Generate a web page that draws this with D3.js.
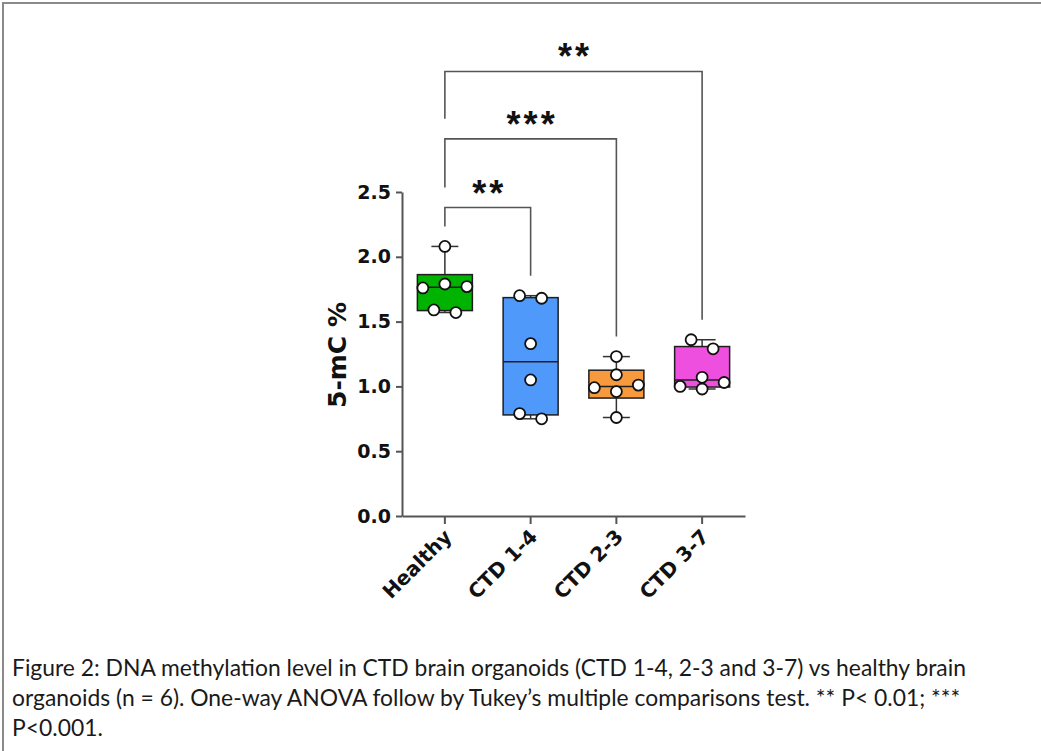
<!DOCTYPE html>
<html lang="en">
<head>
    <meta charset="UTF-8">
    <title>5-mC % box plot</title>
    <script src="https://d3js.org/d3.v7.min.js"></script>
    <style>
        body { margin: 0; background: #fff; }
        svg { display: block; }
    </style>
</head>
<body>
    <div id="chart"></div>
    <script>
        // values (5-mC %, n = 6 per group)
        const categories = ["Healthy", "CTD 1-4", "CTD 2-3", "CTD 3-7"];
        const healthy = [2.08, 1.79, 1.77, 1.76, 1.59, 1.57];
        const ctd14 = [1.70, 1.68, 1.33, 1.05, 0.79, 0.75];
        const ctd23 = [1.23, 1.09, 1.01, 0.99, 0.96, 0.76];
        const ctd37 = [1.36, 1.29, 1.07, 1.03, 1.00, 0.98];
        const groupColors = ["#00b300", "#4f99fb", "#f79a3e", "#ef4fde"];
        const yTicks = [0, 0.5, 1.0, 1.5, 2.0, 2.5];

        const comparisons = [["Healthy", "CTD 1-4"], ["Healthy", "CTD 2-3"], ["Healthy", "CTD 3-7"]];
        const comparisonLabels = ["**", "***", "**"];
        const bracketLevels = [2.38, 2.91, 3.43];

        const captionLines = [
            "Figure 2: DNA methylation level in CTD brain organoids (CTD 1-4, 2-3 and 3-7) vs healthy brain",
            "organoids (n = 6). One-way ANOVA follow by Tukey\u2019s multiple comparisons test. ** P< 0.01; ***",
            "P<0.001."
        ];

        const groups = [healthy, ctd14, ctd23, ctd37];

        const width = 1041, height = 751;
        const svg = d3.select("#chart").append("svg")
            .attr("width", width)
            .attr("height", height);

        svg.append("rect").attr("width", width).attr("height", height).attr("fill", "#fff");

        // frame of the original figure (top and left edges only)
        svg.append("path")
            .attr("d", `M3,${height} V3 H${width}`)
            .attr("fill", "none")
            .attr("stroke", "#8a8a8a")
            .attr("stroke-width", 2);

        const x = d3.scaleBand().domain(categories).range([402, 745]);
        const y = d3.scaleLinear().domain([0, 2.5]).range([516, 192]);

        const axisColor = "#555";
        const tickFont = "'DejaVu Sans', sans-serif";

        // y axis
        const yAxis = svg.append("g")
            .attr("transform", "translate(402,0)")
            .call(d3.axisLeft(y).tickValues(yTicks).tickFormat(d3.format(".1f"))
                .tickSize(6).tickSizeOuter(0).tickPadding(5));
        yAxis.select(".domain").attr("stroke", axisColor).attr("stroke-width", 2);
        yAxis.selectAll(".tick line").attr("stroke", axisColor).attr("stroke-width", 2);
        yAxis.selectAll(".tick text")
            .attr("fill", "#111")
            .style("font-family", tickFont)
            .style("font-size", "19px")
            .style("font-weight", "bold");

        // x axis
        const xAxis = svg.append("g")
            .attr("transform", "translate(0,516)")
            .call(d3.axisBottom(x).tickSize(8).tickSizeOuter(0));
        xAxis.select(".domain").attr("stroke", axisColor).attr("stroke-width", 2);
        xAxis.selectAll(".tick line").attr("stroke", axisColor).attr("stroke-width", 2);
        xAxis.selectAll(".tick text")
            .attr("x", 0).attr("y", 0).attr("dy", 0)
            .attr("text-anchor", "end")
            .attr("transform", "translate(8,22) rotate(-45)")
            .attr("fill", "#111")
            .style("font-family", tickFont)
            .style("font-size", "20px")
            .style("font-weight", "bold");

        // y axis title
        svg.append("text")
            .attr("transform", "translate(346,355) rotate(-90)")
            .attr("text-anchor", "middle")
            .attr("fill", "#111")
            .style("font-family", tickFont)
            .style("font-size", "25px")
            .style("font-weight", "bold")
            .text("5-mC %");

        // quartiles the way Prism computes them (n+1 method)
        function quant(sorted, p) {
            const pos = p * (sorted.length + 1) - 1;
            const lo = Math.max(0, Math.floor(pos));
            const hi = Math.min(sorted.length - 1, lo + 1);
            return sorted[lo] + (pos - lo) * (sorted[hi] - sorted[lo]);
        }

        const boxW = 55;
        const capW = 27;
        const r = 5.5;
        const slot = 22;

        groups.forEach((vals, gi) => {
            const cx = x(categories[gi]) + x.bandwidth() / 2;
            const s = vals.slice().sort(d3.ascending);
            const q1 = quant(s, 0.25), med = d3.median(s), q3 = quant(s, 0.75);
            const lo = s[0], hi = s[s.length - 1];
            const g = svg.append("g");

            // whiskers (min to max)
            [[lo, q1], [q3, hi]].forEach(([a, b]) => {
                g.append("line")
                    .attr("x1", cx).attr("x2", cx)
                    .attr("y1", y(a)).attr("y2", y(b))
                    .attr("stroke", "#333").attr("stroke-width", 1.5);
            });
            [lo, hi].forEach(v => {
                g.append("line")
                    .attr("x1", cx - capW / 2).attr("x2", cx + capW / 2)
                    .attr("y1", y(v)).attr("y2", y(v))
                    .attr("stroke", "#333").attr("stroke-width", 1.5);
            });

            g.append("rect")
                .attr("x", cx - boxW / 2)
                .attr("y", y(q3))
                .attr("width", boxW)
                .attr("height", y(q1) - y(q3))
                .attr("fill", groupColors[gi])
                .attr("stroke", "#1e1e1e")
                .attr("stroke-width", 1.5);

            g.append("line")
                .attr("x1", cx - boxW / 2).attr("x2", cx + boxW / 2)
                .attr("y1", y(med)).attr("y2", y(med))
                .attr("stroke", "#1e1e1e").attr("stroke-width", 1.5);

            // spread points that sit at nearly the same height
            const desc = vals.slice().sort(d3.descending);
            const bins = [];
            desc.forEach(v => {
                const last = bins[bins.length - 1];
                if (last && last.length < 3 && Math.abs(y(v) - y(last[0])) < 2 * r + 2) last.push(v);
                else bins.push([v]);
            });
            const offsetsFor = n => n === 1 ? [0] : n === 2 ? [-slot / 2, slot / 2] : [0, slot, -slot];
            bins.forEach(bin => {
                const offs = offsetsFor(bin.length);
                bin.forEach((v, i) => {
                    g.append("circle")
                        .attr("cx", cx + offs[i])
                        .attr("cy", y(v))
                        .attr("r", r)
                        .attr("fill", "#fff")
                        .attr("stroke", "#111")
                        .attr("stroke-width", 1.8);
                });
            });
        });

        // significance brackets
        const centerOf = c => x(c) + x.bandwidth() / 2;
        const gap = 20;
        comparisons.forEach(([a, b], i) => {
            const yl = y(bracketLevels[i]);
            const x1 = centerOf(a), x2 = centerOf(b);
            const maxA = d3.max(groups[categories.indexOf(a)]);
            const maxB = d3.max(groups[categories.indexOf(b)]);
            const leftStop = i === 0 ? y(maxA) - gap : y(bracketLevels[i - 1]) - gap;
            const rightStop = y(maxB) - gap;
            svg.append("path")
                .attr("d", `M${x1},${leftStop} V${yl} H${x2} V${rightStop}`)
                .attr("fill", "none")
                .attr("stroke", "#555")
                .attr("stroke-width", 1.6);
            svg.append("text")
                .attr("x", (x1 + x2) / 2 + 1.5)
                .attr("y", yl - 2)
                .attr("text-anchor", "middle")
                .attr("fill", "#111")
                .style("font-family", "'Liberation Sans', Arial, sans-serif")
                .style("font-size", "36px")
                .style("font-weight", "bold")
                .style("letter-spacing", "3px")
                .text(comparisonLabels[i]);
        });

        // caption
        const cap = svg.append("g")
            .style("font-family", "Lato, 'Open Sans', sans-serif")
            .attr("fill", "#1a1a1a");
        const lines = cap.selectAll("text")
            .data(captionLines)
            .join("text")
            .attr("x", 12)
            .attr("y", (d, i) => 676 + i * 30)
            .style("font-size", "20px")
            .text(d => d);
        // fit the first line to the width it takes in the figure
        const w0 = lines.node().getComputedTextLength();
        const fs = 20 * 954 / w0;
        lines.style("font-size", fs + "px");
    </script>
</body>
</html>
